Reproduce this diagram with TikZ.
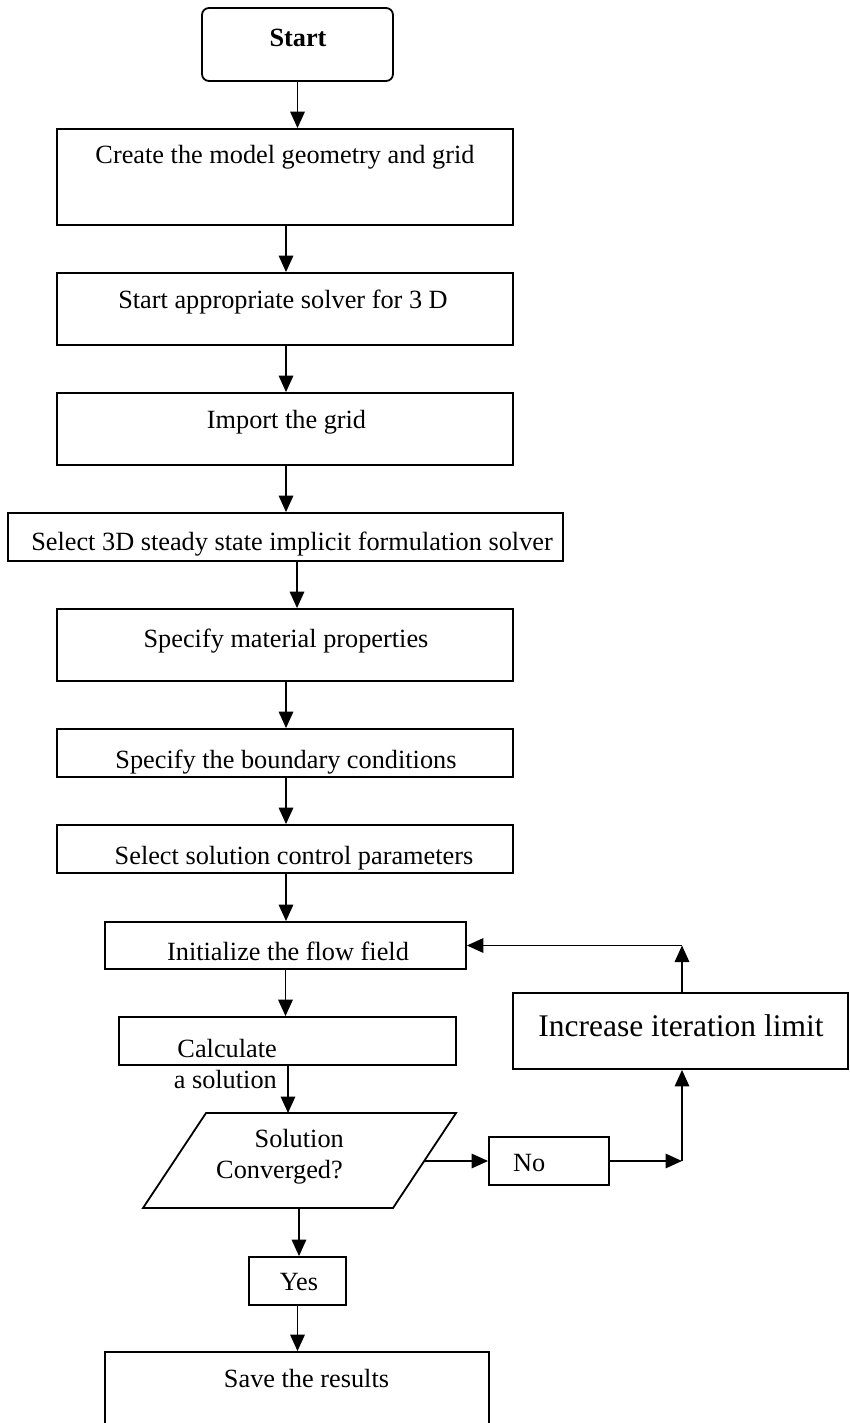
\documentclass[tikz,border=0pt]{standalone}
\usepackage{fontspec}
\setmainfont{Liberation Serif}
\usetikzlibrary{arrows.meta}
\tikzset{
  box/.style={draw, line width=1.8pt, inner sep=0pt, rectangle},
  arr/.style={line width=1.7pt, -{Triangle[width=14.5pt,length=16.5pt]}},
  txt/.style={inner sep=0pt, anchor=base, font=\fontsize{26.3}{31}\selectfont},
  txtr/.style={inner sep=0pt, anchor=base east, font=\fontsize{26.3}{31}\selectfont},
  txtl/.style={inner sep=0pt, anchor=base west, font=\fontsize{26.3}{31}\selectfont},
  bigtxt/.style={inner sep=0pt, anchor=base, font=\fontsize{31.5}{37}\selectfont}
}
\begin{document}
\begin{tikzpicture}[x=1pt,y=-1pt]
\useasboundingbox (0,0) rectangle (849,1423);
\clip (0,0) rectangle (849,1423);
% boxes
\node[box, rounded corners=7pt, minimum width=191pt, minimum height=73pt] (start) at (297.5,44.5) {};
\node[box, minimum width=456pt, minimum height=96pt] (b1) at (285,177) {};
\node[box, minimum width=456pt, minimum height=72pt] (b2) at (285,309) {};
\node[box, minimum width=456pt, minimum height=72pt] (b3) at (285,429) {};
\node[box, minimum width=555pt, minimum height=48pt] (b4) at (285.5,537) {};
\node[box, minimum width=456pt, minimum height=72pt] (b5) at (285,645) {};
\node[box, minimum width=456pt, minimum height=48pt] (b6) at (285,753) {};
\node[box, minimum width=456pt, minimum height=48pt] (b7) at (285,849) {};
\node[box, minimum width=361pt, minimum height=47pt] (b8) at (285.5,945.5) {};
\node[box, minimum width=337pt, minimum height=48pt] (b9) at (287.5,1041) {};
\node[box, minimum width=335pt, minimum height=76pt] (inc) at (680.5,1031) {};
\node[box, minimum width=120pt, minimum height=48pt] (no) at (549,1161) {};
\node[box, minimum width=97pt, minimum height=48pt] (yes) at (297.5,1281) {};
\node[box, minimum width=384pt, minimum height=100pt] (save) at (297,1402) {};
% parallelogram
\coordinate (ptl) at (206,1113);
\coordinate (ptr) at (456,1113);
\coordinate (pbr) at (393,1208);
\coordinate (pbl) at (143,1208);
\draw[line width=1.8pt, line join=miter] (ptl) -- (ptr) -- (pbr) -- (pbl) -- cycle;
\coordinate (ptop) at (288,1113);
\coordinate (pbot) at (299,1208);
\coordinate (pright) at (424.5,1161);
\coordinate (c1) at (682,1161);
\coordinate (c2) at (682,945.5);
% texts
\node[txt, font=\fontsize{26.3}{31}\selectfont\bfseries] (tstart) at (298,47) {Start};
\node[txt] (t1) at (285,164) {Create the model geometry and grid};
\node[txt] (t2) at (283,308) {Start appropriate solver for 3 D};
\node[txt] (t3) at (286.5,428) {Import the grid};
\node[txt] (t4) at (292,550) {Select 3D steady state implicit formulation solver};
\node[txt] (t5) at (286,647) {Specify material properties};
\node[txt] (t6) at (286,768) {Specify the boundary conditions};
\node[txt] (t7) at (294,864) {Select solution control parameters};
\node[txt] (t8) at (288,960) {Initialize the flow field};
\node[txtr] (t9a) at (277,1057) {Calculate};
\node[txtr] (t9b) at (277,1088) {a solution};
\node[txtr] (tpa) at (344,1147) {Solution};
\node[txtr] (tpb) at (343,1178) {Converged?};
\node[txtl] (tno) at (513,1171) {No};
\node[bigtxt] (tinc) at (681,1036) {Increase iteration limit};
\node[txt] (tyes) at (299,1290) {Yes};
\node[txt] (tsave) at (306.5,1387) {Save the results};
% connectors
\draw[arr] (start.south) -- (start.south |- b1.north);
\draw[arr] ([xshift=1pt]b1.south) -- ([xshift=1pt]b1.south |- b2.north);
\draw[arr] ([xshift=1pt]b2.south) -- ([xshift=1pt]b2.south |- b3.north);
\draw[arr] ([xshift=1pt]b3.south) -- ([xshift=1pt]b3.south |- b4.north);
\draw[arr] ([xshift=11.5pt]b4.south) -- ([xshift=11.5pt]b4.south |- b5.north);
\draw[arr] ([xshift=1pt]b5.south) -- ([xshift=1pt]b5.south |- b6.north);
\draw[arr] ([xshift=1pt]b6.south) -- ([xshift=1pt]b6.south |- b7.north);
\draw[arr] ([xshift=1pt]b7.south) -- ([xshift=1pt]b7.south |- b8.north);
\draw[arr] (b8.south) -- (b8.south |- b9.north);
\draw[arr] (ptop |- b9.south) -- (ptop);
\draw[arr] (pbot) -- (pbot |- yes.north);
\draw[arr] (yes.south) -- (yes.south |- save.north);
\draw[arr] (pright) -- (no.west);
\draw[arr] (no.east) -- (c1);
\draw[arr] (c1) -- (c1 |- inc.south);
\draw[arr] (c1 |- inc.north) -- (c2);
\draw[arr] (c2) -- (b8.east);
\end{tikzpicture}
\end{document}
